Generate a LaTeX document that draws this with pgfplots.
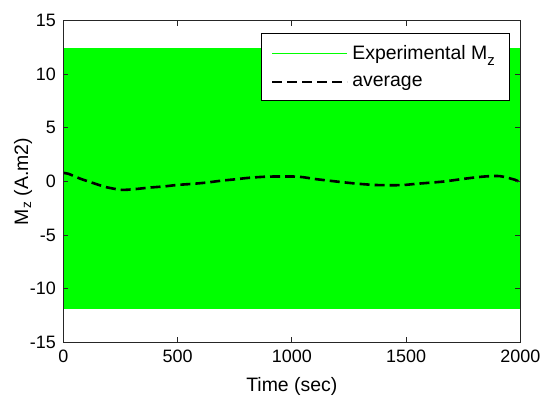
\documentclass[border=0pt]{standalone}
\usepackage{fontspec}
\setmainfont{Liberation Sans}
\usepackage{pgfplots}
\pgfplotsset{compat=1.18}

\definecolor{expgreen}{RGB}{0,255,0}
% lowered subscript as used in the legend entry
\newcommand{\lowsub}[1]{\raisebox{-6bp}{\fontsize{15}{16}\selectfont #1}}

\pgfplotsset{
  long line legend/.style={
    legend image code/.code={\draw[##1] (0bp,0bp) -- (75bp,0bp);}},
  green line legend/.style={
    legend image code/.code={%
      \draw[draw=expgreen, line width=1.3bp, solid] (0bp,0bp) -- (75bp,0bp);}},
}

\begin{document}
\begin{tikzpicture}
\begin{axis}[
  scale only axis,
  width=457bp, height=321.6bp,
  xmin=0, xmax=2000, ymin=-15, ymax=15,
  xtick={0,500,...,2000}, ytick={-15,-10,...,15},
  tick align=inside,
  major tick length=5bp,
  axis line style={line width=0.9bp, black!85},
  every tick/.style={line width=0.9bp, black!85},
  axis on top,
  font=\fontsize{18}{21}\selectfont,
  /pgf/number format/assume math mode=true,
  /pgf/number format/1000 sep={},
  xticklabel style={yshift=-4bp},
  yticklabel style={xshift=-4bp},
  xlabel={Time (sec)},
  ylabel={M\textsubscript{z} (A.m2)},
  label style={font=\fontsize{19.5}{22}\selectfont},
  xlabel style={at={(axis description cs:0.5,-0.137)}, anchor=center},
  ylabel style={at={(axis description cs:-0.088,0.5)}, anchor=center},
  legend cell align=left,
  legend style={
    at={(axis description cs:1,1)}, anchor=north east,
    xshift=-11.3bp, yshift=-12.6bp,
    draw=black, fill=white,
    font=\fontsize{19.5}{22}\selectfont,
    inner xsep=10bp, inner ysep=8bp,
    row sep=7bp,
    nodes={inner sep=4bp},
  },
]
% envelope of the fast oscillating measured moment
\addplot[fill=expgreen, draw=none, green line legend]
  coordinates {(0,-11.9) (0,12.48) (2000,12.48) (2000,-11.9)} -- cycle;
\addlegendentry{Experimental M\lowsub{z}}

% running average of the measured moment
\addplot[draw=black, line width=2.6bp, dash pattern=on 10bp off 5bp,
         smooth, tension=0.4, long line legend]
  coordinates {
    (0,0.80) (22,0.72) (76,0.25) (134,-0.17) (190,-0.54) (255,-0.78)
    (309,-0.72) (376,-0.57) (441,-0.46) (499,-0.32) (566,-0.22)
    (627,-0.10) (693,0.08) (751,0.20) (810,0.34) (878,0.44) (941,0.47)
    (1014,0.46) (1050,0.40) (1106,0.22) (1170,0.06) (1228,-0.08)
    (1295,-0.22) (1360,-0.32) (1427,-0.35) (1488,-0.33) (1543,-0.22)
    (1607,-0.11) (1666,0.00) (1729,0.18) (1794,0.36) (1852,0.48)
    (1911,0.50) (1977,0.16) (2000,-0.08)
  };
\addlegendentry{average}
\end{axis}
\pgfresetboundingbox
\path[use as bounding box]
  ([xshift=-63.3bp,yshift=-58.7bp]current axis.south west)
  rectangle ([xshift=28.7bp,yshift=20.7bp]current axis.north east);
\end{tikzpicture}
\end{document}
